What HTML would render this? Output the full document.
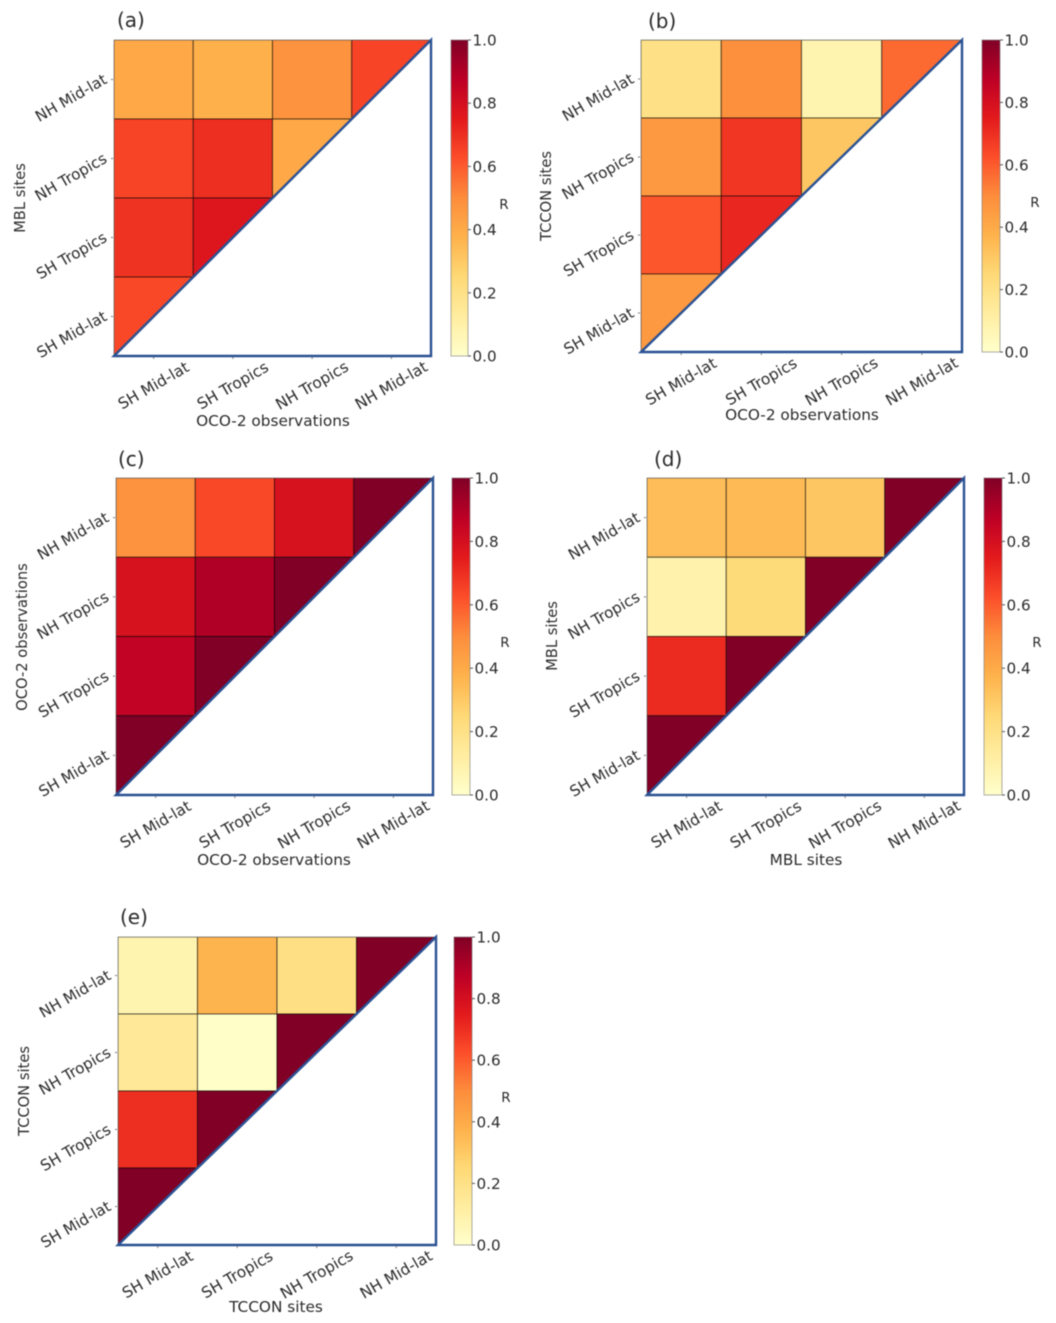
<!DOCTYPE html>
<html lang="en">
<head>
<meta charset="utf-8">
<title>Correlation triangle heatmaps</title>
<style>
html,body{margin:0;padding:0;background:#fff;width:1056px;height:1323px;overflow:hidden}
svg{display:block;filter:blur(0.5px)}
text{font-family:"DejaVu Sans","Liberation Sans",sans-serif;fill:#2b2b2b}
</style>
</head>
<body>
<svg id="figure" xmlns="http://www.w3.org/2000/svg" width="1056" height="1323" viewBox="0 0 1056 1323">
<rect width="1056" height="1323" fill="#fff"/>
<defs id="defs"></defs>
</svg>
<script>
// Region labels
const regionLabelsX = ['SH Mid-lat', 'SH Tropics', 'NH Tropics', 'NH Mid-lat'];
const regionLabelsY = ['NH Mid-lat', 'NH Tropics', 'SH Tropics', 'SH Mid-lat'];
// Colour bar ticks
const colorbarTicks = [0, 0.2, 0.4, 0.6, 0.8, 1.0];
const colorbarTickLabels = ['0.0', '0.2', '0.4', '0.6', '0.8', '1.0'];
// YlOrRd colour map stops
const ylOrRd = ['#ffffcc', '#ffeda0', '#fed976', '#feb24c', '#fd8d3c', '#fc4e2a', '#e31a1c', '#bd0026', '#800026'];
// R values, top row first, left column first
const valuesA = [[0.41, 0.38, 0.48, 0.65], [0.65, 0.70, 0.41], [0.69, 0.77], [0.64]];
const valuesB = [[0.20, 0.49, 0.08, 0.57], [0.46, 0.68, 0.31], [0.61, 0.72], [0.46]];
const valuesC = [[0.48, 0.64, 0.79, 1.00], [0.79, 0.90, 1.00], [0.86, 1.00], [1.00]];
const valuesD = [[0.34, 0.35, 0.31, 1.00], [0.09, 0.24, 1.00], [0.71, 1.00], [1.00]];
const valuesE = [[0.08, 0.37, 0.21, 1.00], [0.15, 0.01, 1.00], [0.70, 1.00], [1.00]];

const panels = [
  {id:'a', values:valuesA, x0:114, x1:431, y0:40, y1:356, cb0:451, cb1:468, xt:'OCO-2 observations', yt:'MBL sites', xtPos:[273,426], ytPos:[25,198], rPos:[504,209], lab:[117,27]},
  {id:'b', values:valuesB, x0:641, x1:962, y0:40, y1:352, cb0:982, cb1:1000, xt:'OCO-2 observations', yt:'TCCON sites', xtPos:[802,420], ytPos:[551,196], rPos:[1035,207], lab:[648,28]},
  {id:'c', values:valuesC, x0:116, x1:433, y0:478, y1:795, cb0:452, cb1:470, xt:'OCO-2 observations', yt:'OCO-2 observations', xtPos:[274,865], ytPos:[27,637], rPos:[505,647], lab:[118,466]},
  {id:'d', values:valuesD, x0:647, x1:964, y0:478, y1:795, cb0:984, cb1:1002, xt:'MBL sites', yt:'MBL sites', xtPos:[806,865], ytPos:[557,636], rPos:[1037,647], lab:[654,466]},
  {id:'e', values:valuesE, x0:118, x1:436, y0:937, y1:1245, cb0:454, cb1:472, xt:'TCCON sites', yt:'TCCON sites', xtPos:[276,1312], ytPos:[29,1091], rPos:[506,1102], lab:[120,924]}
];

const NS = 'http://www.w3.org/2000/svg';
const svg = document.getElementById('figure');
const defs = document.getElementById('defs');

function hexToRgb(h){
  return [1, 3, 5].map(function(i){ return parseInt(h.substr(i, 2), 16); });
}
function colorFor(v){
  const t = Math.max(0, Math.min(1, v)) * (ylOrRd.length - 1);
  const i = Math.min(Math.floor(t), ylOrRd.length - 2);
  const f = t - i;
  const a = hexToRgb(ylOrRd[i]);
  const b = hexToRgb(ylOrRd[i + 1]);
  return 'rgb(' + a.map(function(c, k){ return Math.round(c + (b[k] - c) * f); }).join(',') + ')';
}
function make(tag, attrs, parent){
  const el = document.createElementNS(NS, tag);
  Object.keys(attrs).forEach(function(k){ el.setAttribute(k, attrs[k]); });
  parent.appendChild(el);
  return el;
}

// Shared colour-bar gradient
const grad = make('linearGradient', {id:'cbGrad', x1:0, y1:1, x2:0, y2:0}, defs);
ylOrRd.forEach(function(c, i){
  make('stop', {offset: i / (ylOrRd.length - 1), 'stop-color': c}, grad);
});

panels.forEach(function(p){
  const g = make('g', {}, svg);
  
  

  const n = regionLabelsX.length;
  const xScale = function(c){ return p.x0 + (p.x1 - p.x0) * c / n; };
  const yScale = function(r){ return p.y0 + (p.y1 - p.y0) * r / n; };
  const cbScale = function(v){ return p.y1 + (p.y0 - p.y1) * v; };

  // Clip to the upper-left triangle
  const clip = make('clipPath', {id:'tri-' + p.id}, defs);
  make('polygon', {points: [[xScale(0), yScale(0)], [xScale(n), yScale(0)], [xScale(0), yScale(n)]].map(function(q){ return q.join(','); }).join(' ')}, clip);

  const cells = make('g', {'clip-path': 'url(#tri-' + p.id + ')'}, g);
  
  
  p.values.forEach(function(row, r){
    row.forEach(function(v, c){
      const cell = make('rect', {x: xScale(c), y: yScale(r), width: xScale(c + 1) - xScale(c), height: yScale(r + 1) - yScale(r), fill: colorFor(v), stroke: '#000', 'stroke-opacity': 0.55, 'stroke-width': 1}, cells);
      
      
    });
  });

  // Top and left edge, grey
  const topLeft = make('path', {d: 'M' + xScale(0) + ' ' + yScale(n) + 'L' + xScale(0) + ' ' + yScale(0) + 'L' + xScale(n) + ' ' + yScale(0), fill: 'none', stroke: '#555', 'stroke-opacity': 0.5, 'stroke-width': 1}, g);
  
  

  // Blue triangle outline
  const tri = make('path', {d: 'M' + xScale(0) + ' ' + yScale(n) + 'L' + xScale(n) + ' ' + yScale(0) + 'L' + xScale(n) + ' ' + yScale(n) + 'Z', fill: '#fff', stroke: '#2a5193', 'stroke-width': 2.4, 'stroke-linejoin': 'miter'}, g);
  
  

  // X ticks and labels
  regionLabelsX.forEach(function(label, i){
    const cx = (xScale(i) + xScale(i + 1)) / 2;
    const tick = make('line', {x1: cx, x2: cx, y1: p.y1 + 1, y2: p.y1 + 3, stroke: '#777', 'stroke-width': 1}, g);
    
    
    const tx = cx + 2.5, ty = p.y1 + 34;
    const t = make('text', {x: tx, y: ty, 'font-size': 15.4, 'text-anchor': 'middle', transform: 'rotate(-30 ' + tx + ' ' + ty + ')'}, g);
    t.textContent = label;
    
    
  });

  // Y ticks and labels
  regionLabelsY.forEach(function(label, i){
    const cy = (yScale(i) + yScale(i + 1)) / 2;
    const tick = make('line', {x1: p.x0 - 3, x2: p.x0 - 1, y1: cy, y2: cy, stroke: '#777', 'stroke-width': 1}, g);
    
    
    const tx = p.x0 - 6, ty = cy + 3;
    const t = make('text', {x: tx, y: ty, 'font-size': 15.2, 'text-anchor': 'end', transform: 'rotate(-30 ' + tx + ' ' + ty + ')'}, g);
    t.textContent = label;
    
    
  });

  // Axis titles
  const xTitle = make('text', {x: p.xtPos[0], y: p.xtPos[1], 'font-size': 15.3, 'text-anchor': 'middle'}, g);
  xTitle.textContent = p.xt;
  
  
  const yTitle = make('text', {x: p.ytPos[0], y: p.ytPos[1], 'font-size': 14.7, 'text-anchor': 'middle', transform: 'rotate(-90 ' + p.ytPos[0] + ' ' + p.ytPos[1] + ')'}, g);
  yTitle.textContent = p.yt;
  
  

  // Panel label
  const lab = make('text', {x: p.lab[0], y: p.lab[1], 'font-size': 20}, g);
  lab.textContent = '(' + p.id + ')';
  
  

  // Colour bar
  const bar = make('rect', {x: p.cb0, y: cbScale(1), width: p.cb1 - p.cb0, height: cbScale(0) - cbScale(1), fill: 'url(#cbGrad)', stroke: '#777', 'stroke-opacity': 0.6, 'stroke-width': 1}, g);
  
  
  colorbarTicks.forEach(function(v, i){
    const y = cbScale(v);
    const tick = make('line', {x1: p.cb1, x2: p.cb1 + 3, y1: y, y2: y, stroke: '#555', 'stroke-width': 1}, g);
    
    
    const t = make('text', {x: p.cb1 + 4.5, y: y + 5.5, 'font-size': 15.2}, g);
    t.textContent = colorbarTickLabels[i];
    
    
  });
  const r = make('text', {x: p.rPos[0], y: p.rPos[1], 'font-size': 13.5, 'text-anchor': 'middle'}, g);
  r.textContent = 'R';
  
  
});
</script>
</body>
</html>
